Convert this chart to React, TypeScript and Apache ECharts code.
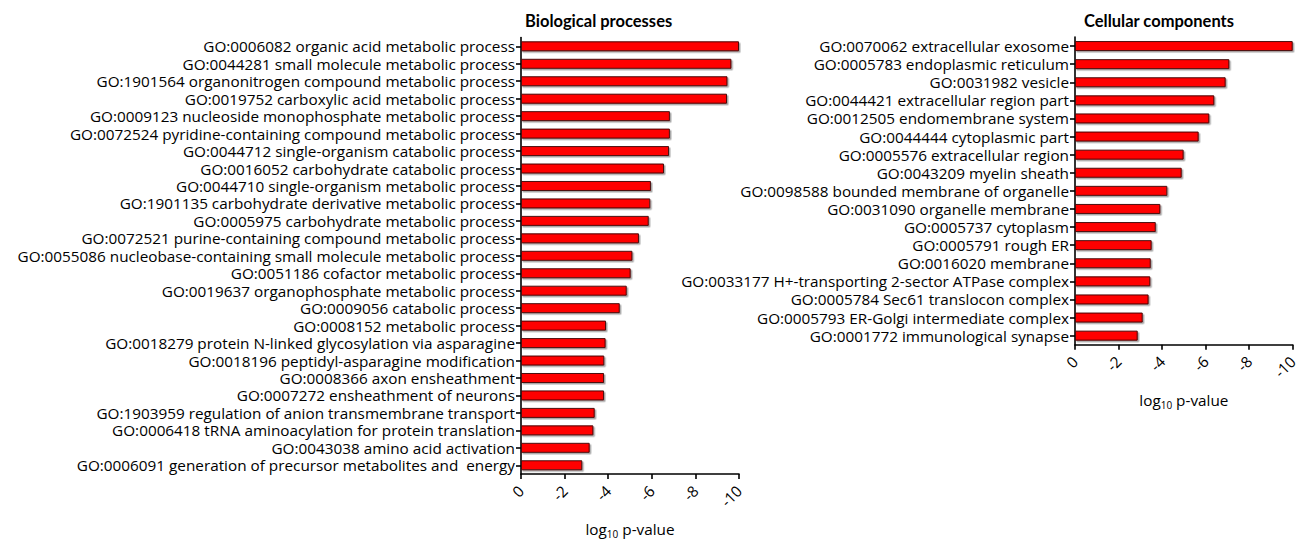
import React, { useEffect, useRef } from "react";
import * as echarts from "echarts";

const bpCategories = [
  "GO:0006082 organic acid metabolic process",
  "GO:0044281 small molecule metabolic process",
  "GO:1901564 organonitrogen compound metabolic process",
  "GO:0019752 carboxylic acid metabolic process",
  "GO:0009123 nucleoside monophosphate metabolic process",
  "GO:0072524 pyridine-containing compound metabolic process",
  "GO:0044712 single-organism catabolic process",
  "GO:0016052 carbohydrate catabolic process",
  "GO:0044710 single-organism metabolic process",
  "GO:1901135 carbohydrate derivative metabolic process",
  "GO:0005975 carbohydrate metabolic process",
  "GO:0072521 purine-containing compound metabolic process",
  "GO:0055086 nucleobase-containing small molecule metabolic process",
  "GO:0051186 cofactor metabolic process",
  "GO:0019637 organophosphate metabolic process",
  "GO:0009056 catabolic process",
  "GO:0008152 metabolic process",
  "GO:0018279 protein N-linked glycosylation via asparagine",
  "GO:0018196 peptidyl-asparagine modification",
  "GO:0008366 axon ensheathment",
  "GO:0007272 ensheathment of neurons",
  "GO:1903959 regulation of anion transmembrane transport",
  "GO:0006418 tRNA aminoacylation for protein translation",
  "GO:0043038 amino acid activation",
  "GO:0006091 generation of precursor metabolites and  energy",
];
const bpValues = [
  -10.0, -9.65, -9.47, -9.45, -6.83, -6.83, -6.79, -6.56, -5.96, -5.93, -5.86,
  -5.41, -5.11, -5.03, -4.85, -4.53, -3.9, -3.88, -3.82, -3.81, -3.81, -3.38,
  -3.32, -3.15, -2.81,
];

const ccCategories = [
  "GO:0070062 extracellular exosome",
  "GO:0005783 endoplasmic reticulum",
  "GO:0031982 vesicle",
  "GO:0044421 extracellular region part",
  "GO:0012505 endomembrane system",
  "GO:0044444 cytoplasmic part",
  "GO:0005576 extracellular region",
  "GO:0043209 myelin sheath",
  "GO:0098588 bounded membrane of organelle",
  "GO:0031090 organelle membrane",
  "GO:0005737 cytoplasm",
  "GO:0005791 rough ER",
  "GO:0016020 membrane",
  "GO:0033177 H+-transporting 2-sector ATPase complex",
  "GO:0005784 Sec61 translocon complex",
  "GO:0005793 ER-Golgi intermediate complex",
  "GO:0001772 immunological synapse",
];
const ccValues = [
  -10.0, -7.09, -6.92, -6.4, -6.17, -5.68, -4.99, -4.9, -4.24, -3.92, -3.71,
  -3.52, -3.48, -3.46, -3.38, -3.11, -2.88,
];

const xTicks = { min: -10, max: 0, interval: 2 };
const titles = ["Biological processes", "Cellular components"];

const FONT = "Open Sans";
const FS = 15.3;

export default function App() {
  const ref = useRef<HTMLDivElement>(null);
  useEffect(() => {
    if (!ref.current) return;
    const chart = echarts.init(ref.current, null, { renderer: "svg" });
    const axisLine = { show: true, lineStyle: { color: "#000", width: 1.6 } };
    const xAxis = (gridIndex: number) => ({
      type: "value",
      gridIndex,
      min: xTicks.min,
      max: xTicks.max,
      interval: xTicks.interval,
      inverse: true,
      splitLine: { show: false },
      axisLine,
      axisTick: { show: true, length: 5, lineStyle: { color: "#000", width: 1.6 } },
      axisLabel: {
        rotate: 45,
        margin: 14,
        color: "#000",
        fontFamily: FONT,
        fontSize: FS,
        formatter: (v: number) => (v === 0 ? "0" : String(v)),
      },
      name: "log{sub|10} p-value",
      nameLocation: "middle",
      nameGap: 45,
      nameTextStyle: {
        color: "#000",
        fontFamily: FONT,
        fontSize: FS,
        lineHeight: 20,
        rich: {
          sub: {
            fontFamily: FONT,
            fontSize: 10,
            lineHeight: 12,
            verticalAlign: "bottom",
            color: "#000",
          },
        },
      },
    });
    const yAxis = (gridIndex: number, data: string[]) => ({
      type: "category",
      gridIndex,
      data,
      inverse: true,
      axisLine,
      axisTick: {
        show: true,
        length: 5,
        alignWithLabel: true,
        lineStyle: { color: "#000", width: 1.6 },
      },
      axisLabel: {
        color: "#000",
        fontFamily: FONT,
        fontSize: FS,
        margin: 6,
        interval: 0,
      },
    });
    const barStyle = {
      color: "#ff0000",
      borderColor: "#4a0a0a",
      borderWidth: 1,
      shadowColor: "rgba(0,0,0,0.35)",
      shadowOffsetX: 1.5,
      shadowOffsetY: 1.5,
      shadowBlur: 0,
    };
    const titleStyle = { fontFamily: "Lato", fontSize: 16.5, fontWeight: "bold", color: "#000" };
    chart.setOption({
      animation: false,
      title: [
        { text: titles[0], left: 520, top: 7, textStyle: titleStyle },
        { text: titles[1], left: 1079, top: 7, textStyle: titleStyle },
      ],
      grid: [
        { left: 521, top: 37.6, width: 218, height: 453.1 },
        { left: 1075, top: 37, width: 217.7, height: 307.7 },
      ],
      xAxis: [xAxis(0), xAxis(1)],
      yAxis: [yAxis(0, bpCategories), yAxis(1, ccCategories)],
      series: [
        {
          type: "bar",
          xAxisIndex: 0,
          yAxisIndex: 0,
          data: bpValues,
          barWidth: 10,
          itemStyle: barStyle,
        },
        {
          type: "bar",
          xAxisIndex: 1,
          yAxisIndex: 1,
          data: ccValues,
          barWidth: 10,
          itemStyle: barStyle,
        },
      ],
    });
    return () => chart.dispose();
  }, []);
  return (
    <div
      ref={ref}
      style={{ position: "fixed", left: 0, top: 0, width: 1311, height: 544, background: "#fff" }}
    />
  );
}
